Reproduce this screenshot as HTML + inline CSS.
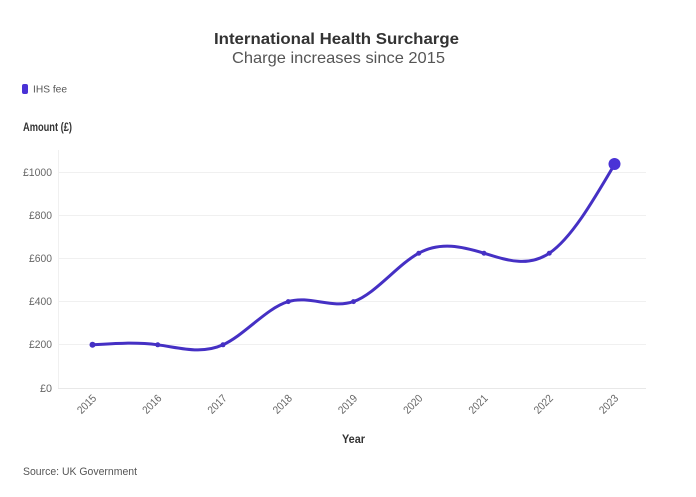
<!DOCTYPE html>
<html>
<head>
<meta charset="utf-8">
<style>
html,body{margin:0;padding:0;background:#fff;}
svg{display:block;}
text{font-family:"Liberation Sans",sans-serif;}
</style>
</head>
<body>
<svg width="696" height="497" viewBox="0 0 696 497" xmlns="http://www.w3.org/2000/svg">
<rect width="696" height="497" fill="#fff"/>
<!-- Title -->
<text x="336.5" y="44" text-anchor="middle" font-size="16" font-weight="bold" fill="#333" textLength="245" lengthAdjust="spacingAndGlyphs">International Health Surcharge</text>
<text x="338.5" y="63" text-anchor="middle" font-size="16" fill="#555" textLength="213" lengthAdjust="spacingAndGlyphs">Charge increases since 2015</text>
<!-- Legend -->
<rect x="22" y="84" width="6" height="10" rx="2" fill="#4a32d6"/>
<text x="33" y="92.5" font-size="10.5" fill="#555" textLength="34" lengthAdjust="spacingAndGlyphs">IHS fee</text>
<!-- Y axis title -->
<text x="23" y="131" font-size="12" font-weight="bold" fill="#333" textLength="49" lengthAdjust="spacingAndGlyphs">Amount (£)</text>
<!-- Grid -->
<g stroke="#f0f0f0" stroke-width="1">
<line x1="58.5" y1="150" x2="58.5" y2="388"/>
<line x1="58" y1="172.5" x2="646" y2="172.5"/>
<line x1="58" y1="215.5" x2="646" y2="215.5"/>
<line x1="58" y1="258.5" x2="646" y2="258.5"/>
<line x1="58" y1="301.5" x2="646" y2="301.5"/>
<line x1="58" y1="344.5" x2="646" y2="344.5"/>
</g>
<line x1="58" y1="388.5" x2="646" y2="388.5" stroke="#e8e8e8" stroke-width="1"/>
<!-- Y labels -->
<g font-size="11" fill="#666" text-anchor="end">
<text x="52" y="176" textLength="29" lengthAdjust="spacingAndGlyphs">£1000</text>
<text x="52" y="219" textLength="23" lengthAdjust="spacingAndGlyphs">£800</text>
<text x="52" y="262" textLength="23" lengthAdjust="spacingAndGlyphs">£600</text>
<text x="52" y="305" textLength="23" lengthAdjust="spacingAndGlyphs">£400</text>
<text x="52" y="348" textLength="23" lengthAdjust="spacingAndGlyphs">£200</text>
<text x="52" y="392" textLength="12" lengthAdjust="spacingAndGlyphs">£0</text>
</g>
<!-- X labels -->
<g font-size="11" fill="#666" text-anchor="end">
<text transform="translate(97,399) rotate(-45)" textLength="22" lengthAdjust="spacingAndGlyphs">2015</text>
<text transform="translate(162.25,399) rotate(-45)" textLength="22" lengthAdjust="spacingAndGlyphs">2016</text>
<text transform="translate(227.5,399) rotate(-45)" textLength="22" lengthAdjust="spacingAndGlyphs">2017</text>
<text transform="translate(292.75,399) rotate(-45)" textLength="22" lengthAdjust="spacingAndGlyphs">2018</text>
<text transform="translate(358,399) rotate(-45)" textLength="22" lengthAdjust="spacingAndGlyphs">2019</text>
<text transform="translate(423.25,399) rotate(-45)" textLength="22" lengthAdjust="spacingAndGlyphs">2020</text>
<text transform="translate(488.5,399) rotate(-45)" textLength="22" lengthAdjust="spacingAndGlyphs">2021</text>
<text transform="translate(553.75,399) rotate(-45)" textLength="22" lengthAdjust="spacingAndGlyphs">2022</text>
<text transform="translate(619,399) rotate(-45)" textLength="22" lengthAdjust="spacingAndGlyphs">2023</text>
</g>
<!-- X axis title -->
<text x="353.5" y="443" text-anchor="middle" font-size="12" font-weight="bold" fill="#333" textLength="23" lengthAdjust="spacingAndGlyphs">Year</text>
<!-- Line -->
<path d="M92.5,344.8 C114.25,343.39 136,341.97 157.75,344.8 C179.5,347.63 201.25,354.70 223,344.8 C244.75,334.91 266.5,308.05 288.25,301.6 C310,295.15 331.75,309.12 353.5,301.6 C375.25,294.08 397,265.09 418.75,253.22 C440.5,241.35 462.25,246.61 484,253.22 C505.75,259.83 527.5,267.79 549.25,253.22 C571,238.65 592.75,201.54 614.5,164.44" fill="none" stroke="#4530c4" stroke-width="3" stroke-linecap="round" stroke-linejoin="round"/>
<!-- Points -->
<g fill="#4530c4">
<circle cx="92.5" cy="344.8" r="3"/>
<circle cx="157.75" cy="344.8" r="2.5"/>
<circle cx="223" cy="344.8" r="2.5"/>
<circle cx="288.25" cy="301.6" r="2.5"/>
<circle cx="353.5" cy="301.6" r="2.5"/>
<circle cx="418.75" cy="253.22" r="2.5"/>
<circle cx="484" cy="253.22" r="2.5"/>
<circle cx="549.25" cy="253.22" r="2.5"/>
</g>
<circle cx="614.5" cy="164" r="6" fill="#4a32d6"/>
<!-- Source -->
<text x="23" y="475" font-size="11" fill="#555" textLength="114" lengthAdjust="spacingAndGlyphs">Source: UK Government</text>
</svg>
</body>
</html>
